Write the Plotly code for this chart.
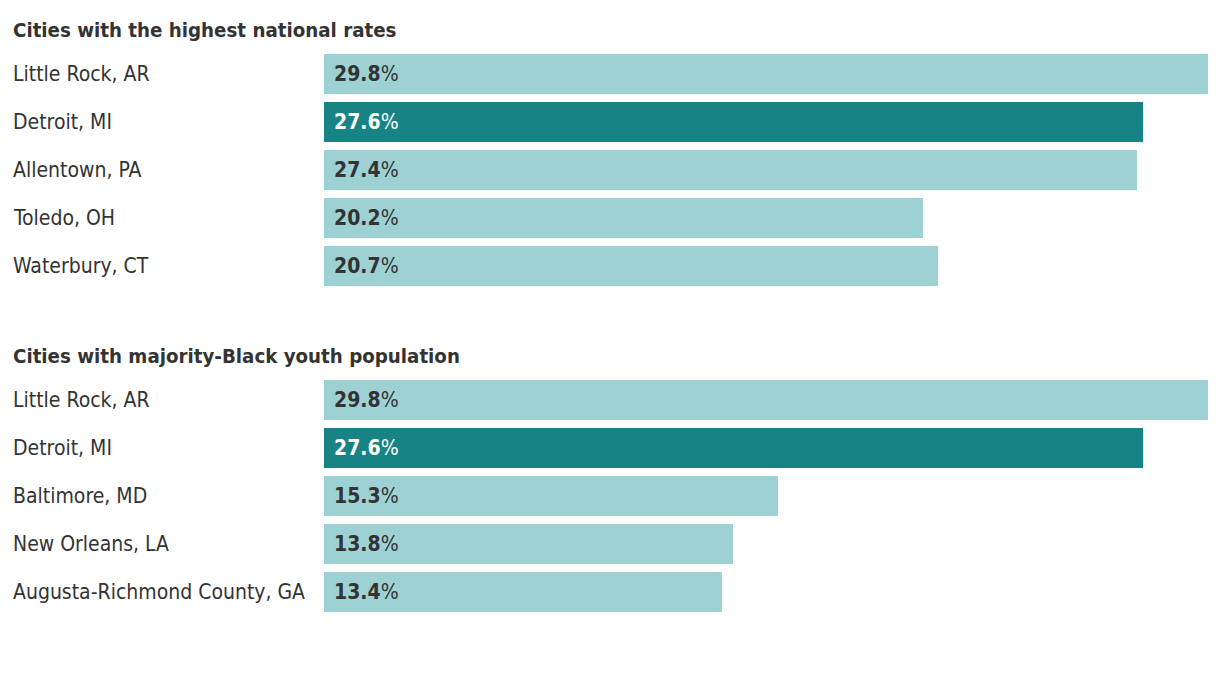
import plotly.graph_objects as go

# The page body has an 8px margin, so figure coordinates = reference pixels - 8
OFF = 8
W, H = 1220 - OFF, 688 - OFF

title1 = "Cities with the highest national rates"
cities1 = ["Little Rock, AR", "Detroit, MI", "Allentown, PA", "Toledo, OH", "Waterbury, CT"]
rates1 = [29.8, 27.6, 27.4, 20.2, 20.7]

title2 = "Cities with majority-Black youth population"
cities2 = ["Little Rock, AR", "Detroit, MI", "Baltimore, MD", "New Orleans, LA", "Augusta-Richmond County, GA"]
rates2 = [29.8, 27.6, 15.3, 13.8, 13.4]

highlight = "Detroit, MI"
LIGHT = "#9dd1d3"
DARK = "#178385"
TEXT = "#333333"
FONT = "Liberation Sans Narrow, DejaVu Sans Condensed, Roboto Condensed, sans-serif"


def px(x):
    return (x - OFF) / W


def py(y):
    return 1 - (y - OFF) / H


fig = go.Figure()

panels = [
    (title1, cities1, rates1, "x", "y", (py(290), py(50)), 30),
    (title2, cities2, rates2, "x2", "y2", (py(616), py(376)), 356),
]

annotations = []
layout_axes = {}
for i, (title, cities, rates, xa, ya, dom, ty) in enumerate(panels):
    colors = [DARK if c == highlight else LIGHT for c in cities]
    fig.add_trace(go.Bar(
        x=rates, y=cities, orientation="h", xaxis=xa, yaxis=ya,
        marker=dict(color=colors, line=dict(width=0)),
        width=40 / 48, hoverinfo="skip", showlegend=False,
    ))
    sfx = "" if i == 0 else "2"
    layout_axes["xaxis" + sfx] = dict(domain=[px(324), px(1208)], range=[0, max(rates1 + rates2)],
                                      visible=False, fixedrange=True, anchor="y" + sfx)
    layout_axes["yaxis" + sfx] = dict(domain=list(dom), autorange=False, range=[4.5, -0.5],
                                      type="category", categoryorder="array", categoryarray=cities,
                                      visible=False, fixedrange=True, anchor="x" + sfx)
    annotations.append(dict(
        x=px(12), y=py(ty), xref="paper", yref="paper", xanchor="left", yanchor="middle",
        text="<b>" + title + "</b>", showarrow=False, xshift=-1,
        font=dict(family=FONT, size=20.3, color=TEXT),
    ))
    for c, r in zip(cities, rates):
        annotations.append(dict(
            x=px(12), y=c, xref="paper", yref=ya, xanchor="left", yanchor="middle",
            text=c, showarrow=False, xshift=-1,
            font=dict(family=FONT, size=21, color=TEXT),
        ))
        annotations.append(dict(
            x=0, y=c, xref=xa, yref=ya, xanchor="left", yanchor="middle", xshift=8,
            text="<b>%.1f</b>%%" % r, showarrow=False,
            font=dict(family=FONT, size=21, color="#ffffff" if c == highlight else TEXT),
        ))

fig.update_layout(
    width=W, height=H,
    margin=dict(l=0, r=0, t=0, b=0),
    paper_bgcolor="white", plot_bgcolor="white",
    annotations=annotations,
    bargap=0,
    **layout_axes,
)

fig.write_html("out.html", config={"displayModeBar": False})
